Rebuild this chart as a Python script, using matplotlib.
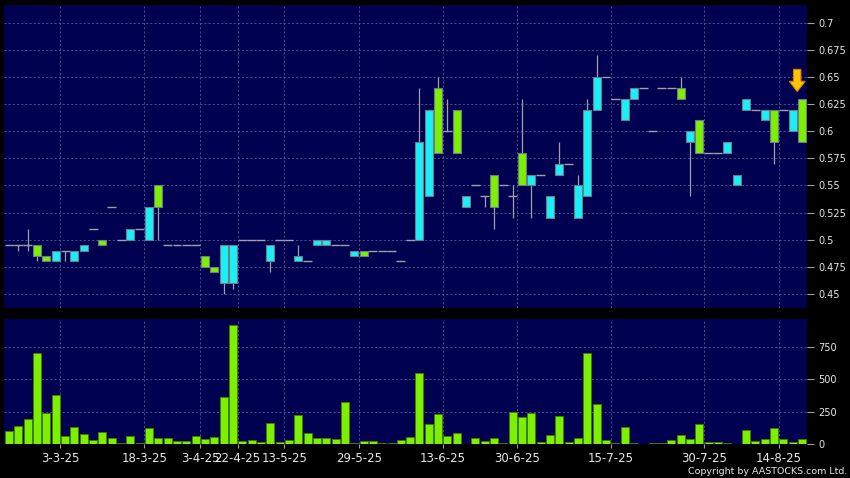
import matplotlib
matplotlib.use("Agg")
import matplotlib.pyplot as plt
from matplotlib.patches import FancyArrow
import numpy as np

# daily candles, oldest first
opens = [0.495, 0.495, 0.495, 0.495, 0.485, 0.48, 0.49, 0.48, 0.49, 0.51,
         0.5, 0.53, 0.5, 0.5, 0.51, 0.5, 0.55, 0.495, 0.495, 0.495,
         0.495, 0.485, 0.475, 0.46, 0.46, 0.5, 0.5, 0.5, 0.48, 0.5,
         0.5, 0.48, 0.48, 0.495, 0.495, 0.495, 0.495, 0.485, 0.49, 0.49,
         0.49, 0.49, 0.48, 0.5, 0.5, 0.54, 0.64, 0.6, 0.62, 0.53,
         0.55, 0.54, 0.56, 0.55, 0.54, 0.58, 0.55, 0.56, 0.52, 0.56,
         0.57, 0.52, 0.54, 0.62, 0.65, 0.63, 0.61, 0.63, 0.64, 0.6,
         0.64, 0.64, 0.64, 0.59, 0.61, 0.58, 0.58, 0.58, 0.55, 0.62,
         0.62, 0.61, 0.62, 0.62, 0.6, 0.63]
highs = [0.495, 0.495, 0.51, 0.495, 0.485, 0.49, 0.49, 0.49, 0.495, 0.51,
         0.5, 0.53, 0.5, 0.51, 0.51, 0.53, 0.55, 0.495, 0.495, 0.495,
         0.495, 0.485, 0.475, 0.495, 0.495, 0.5, 0.5, 0.5, 0.495, 0.5,
         0.5, 0.495, 0.48, 0.5, 0.5, 0.495, 0.495, 0.49, 0.49, 0.49,
         0.49, 0.49, 0.48, 0.5, 0.64, 0.62, 0.65, 0.63, 0.62, 0.54,
         0.55, 0.54, 0.56, 0.55, 0.55, 0.63, 0.56, 0.56, 0.54, 0.59,
         0.57, 0.56, 0.63, 0.67, 0.65, 0.63, 0.63, 0.64, 0.64, 0.6,
         0.64, 0.64, 0.65, 0.6, 0.61, 0.58, 0.58, 0.59, 0.56, 0.63,
         0.62, 0.62, 0.62, 0.62, 0.62, 0.63]
lows = [0.495, 0.49, 0.49, 0.48, 0.48, 0.48, 0.48, 0.48, 0.49, 0.51,
        0.495, 0.53, 0.5, 0.5, 0.51, 0.5, 0.5, 0.495, 0.495, 0.495,
        0.495, 0.475, 0.47, 0.45, 0.455, 0.5, 0.5, 0.5, 0.47, 0.5,
        0.5, 0.48, 0.48, 0.495, 0.495, 0.495, 0.495, 0.485, 0.485, 0.49,
        0.49, 0.49, 0.48, 0.5, 0.5, 0.54, 0.58, 0.6, 0.58, 0.53,
        0.55, 0.53, 0.51, 0.55, 0.52, 0.55, 0.52, 0.56, 0.52, 0.56,
        0.57, 0.52, 0.54, 0.62, 0.65, 0.63, 0.61, 0.63, 0.64, 0.6,
        0.64, 0.64, 0.63, 0.54, 0.58, 0.58, 0.58, 0.58, 0.55, 0.62,
        0.62, 0.61, 0.57, 0.62, 0.6, 0.59]
closes = [0.495, 0.495, 0.495, 0.485, 0.48, 0.49, 0.49, 0.49, 0.495, 0.51,
          0.495, 0.53, 0.5, 0.51, 0.51, 0.53, 0.53, 0.495, 0.495, 0.495,
          0.495, 0.475, 0.47, 0.495, 0.495, 0.5, 0.5, 0.5, 0.495, 0.5,
          0.5, 0.485, 0.48, 0.5, 0.5, 0.495, 0.495, 0.49, 0.485, 0.49,
          0.49, 0.49, 0.48, 0.5, 0.59, 0.62, 0.58, 0.6, 0.58, 0.54,
          0.55, 0.54, 0.53, 0.55, 0.54, 0.55, 0.56, 0.56, 0.54, 0.57,
          0.57, 0.55, 0.62, 0.65, 0.65, 0.63, 0.63, 0.64, 0.64, 0.6,
          0.64, 0.64, 0.63, 0.6, 0.58, 0.58, 0.58, 0.59, 0.56, 0.63,
          0.62, 0.62, 0.59, 0.62, 0.62, 0.59]
# volume in thousands
volumes = [103, 139, 193, 700, 237, 378, 64, 129, 75, 33,
           93, 49, 8, 59, 8, 121, 49, 46, 26, 26,
           59, 36, 57, 365, 913, 21, 33, 18, 162, 13,
           33, 224, 82, 46, 44, 39, 327, 8, 21, 26,
           5, 8, 33, 51, 545, 152, 229, 59, 85, 3,
           49, 23, 44, 8, 244, 211, 242, 13, 72, 219,
           18, 46, 702, 309, 33, 8, 134, 8, 2, 5,
           10, 28, 69, 36, 154, 15, 15, 8, 3, 111,
           26, 39, 121, 41, 18, 39]

tick_bars = [5, 14, 20, 24, 29, 37, 46, 54, 64, 74, 82]
tick_labels = ["3-3-25", "18-3-25", "3-4-25", "22-4-25", "13-5-25", "29-5-25",
               "13-6-25", "30-6-25", "15-7-25", "30-7-25", "14-8-25"]
price_ticks = [0.45, 0.475, 0.5, 0.525, 0.55, 0.575, 0.6, 0.625, 0.65, 0.675, 0.7]
vol_ticks = [0, 250, 500, 750]

BG = "#000050"
UP = "#19f0f5"
DOWN = "#7cf000"
GRID = "#5a5a96"
TXT = "#e8e8e8"

W, H = 850, 478
fig = plt.figure(figsize=(W / 100, H / 100), dpi=100, facecolor="black")
ax = fig.add_axes([4 / W, 1 - 308 / H, 803 / W, 303 / H], facecolor=BG)
vx = fig.add_axes([4 / W, 1 - 444 / H, 803 / W, 125 / H], facecolor=BG)

n = len(closes)
x = np.arange(n)
bw = 0.86

for i in range(n):
    o, h, l, c = opens[i], highs[i], lows[i], closes[i]
    if h > l:
        ax.vlines(x[i], l, h, color="#a0a0a8", lw=0.9, zorder=2)
    if o == c:
        ax.hlines(o, x[i] - 0.48, x[i] + 0.48, color="#a0a0a8", lw=1.0, zorder=3)
    else:
        clr = UP if c > o else DOWN
        ax.bar(x[i], abs(c - o), bottom=min(o, c), width=bw, color=clr,
               edgecolor="#6c7c8c", linewidth=0.8, zorder=3)

# marker arrow over the latest bar
ax.add_patch(FancyArrow(n - 1.5, 0.657, 0, -0.0205, width=0.8, head_width=1.7,
                        head_length=0.0095, length_includes_head=True,
                        facecolor="#ffc400", edgecolor="#d08000", lw=0.8, zorder=5))

vx.bar(x, volumes, width=bw, color=DOWN, edgecolor="#3c8000", linewidth=0.6, zorder=3)

ax.set_xlim(-0.55, n - 0.45)
vx.set_xlim(-0.55, n - 0.45)
ax.set_ylim(0.4371, 0.7163)
vx.set_ylim(0, 962)

grid_x = [b + 0.5 for b in tick_bars]
for a in (ax, vx):
    a.set_xticks(grid_x)
    a.yaxis.tick_right()
    a.grid(True, color=GRID, linestyle=(0, (2.5, 2.5)), linewidth=0.6, zorder=0)
    for s in a.spines.values():
        s.set_visible(False)
    a.tick_params(axis="y", colors="#a0a0a0", labelcolor=TXT, length=5, width=0.8,
                  pad=3, labelsize=7)

ax.set_yticks(price_ticks)
ax.set_yticklabels([f"{p:g}" for p in price_ticks])
ax.tick_params(axis="x", length=0, labelbottom=False)

vx.set_yticks(vol_ticks)
vx.set_yticklabels([str(v) for v in vol_ticks])
vx.set_xticklabels(tick_labels)
vx.tick_params(axis="x", colors="#a0a0a0", labelcolor=TXT, length=3, width=0.8,
               pad=3, labelsize=8.5)

fig.text(0.997, 0.014, "Copyright by AASTOCKS.com Ltd.", color=TXT, fontsize=6.8,
         ha="right", va="center")

fig.savefig("out.png", dpi=100, facecolor="black")
